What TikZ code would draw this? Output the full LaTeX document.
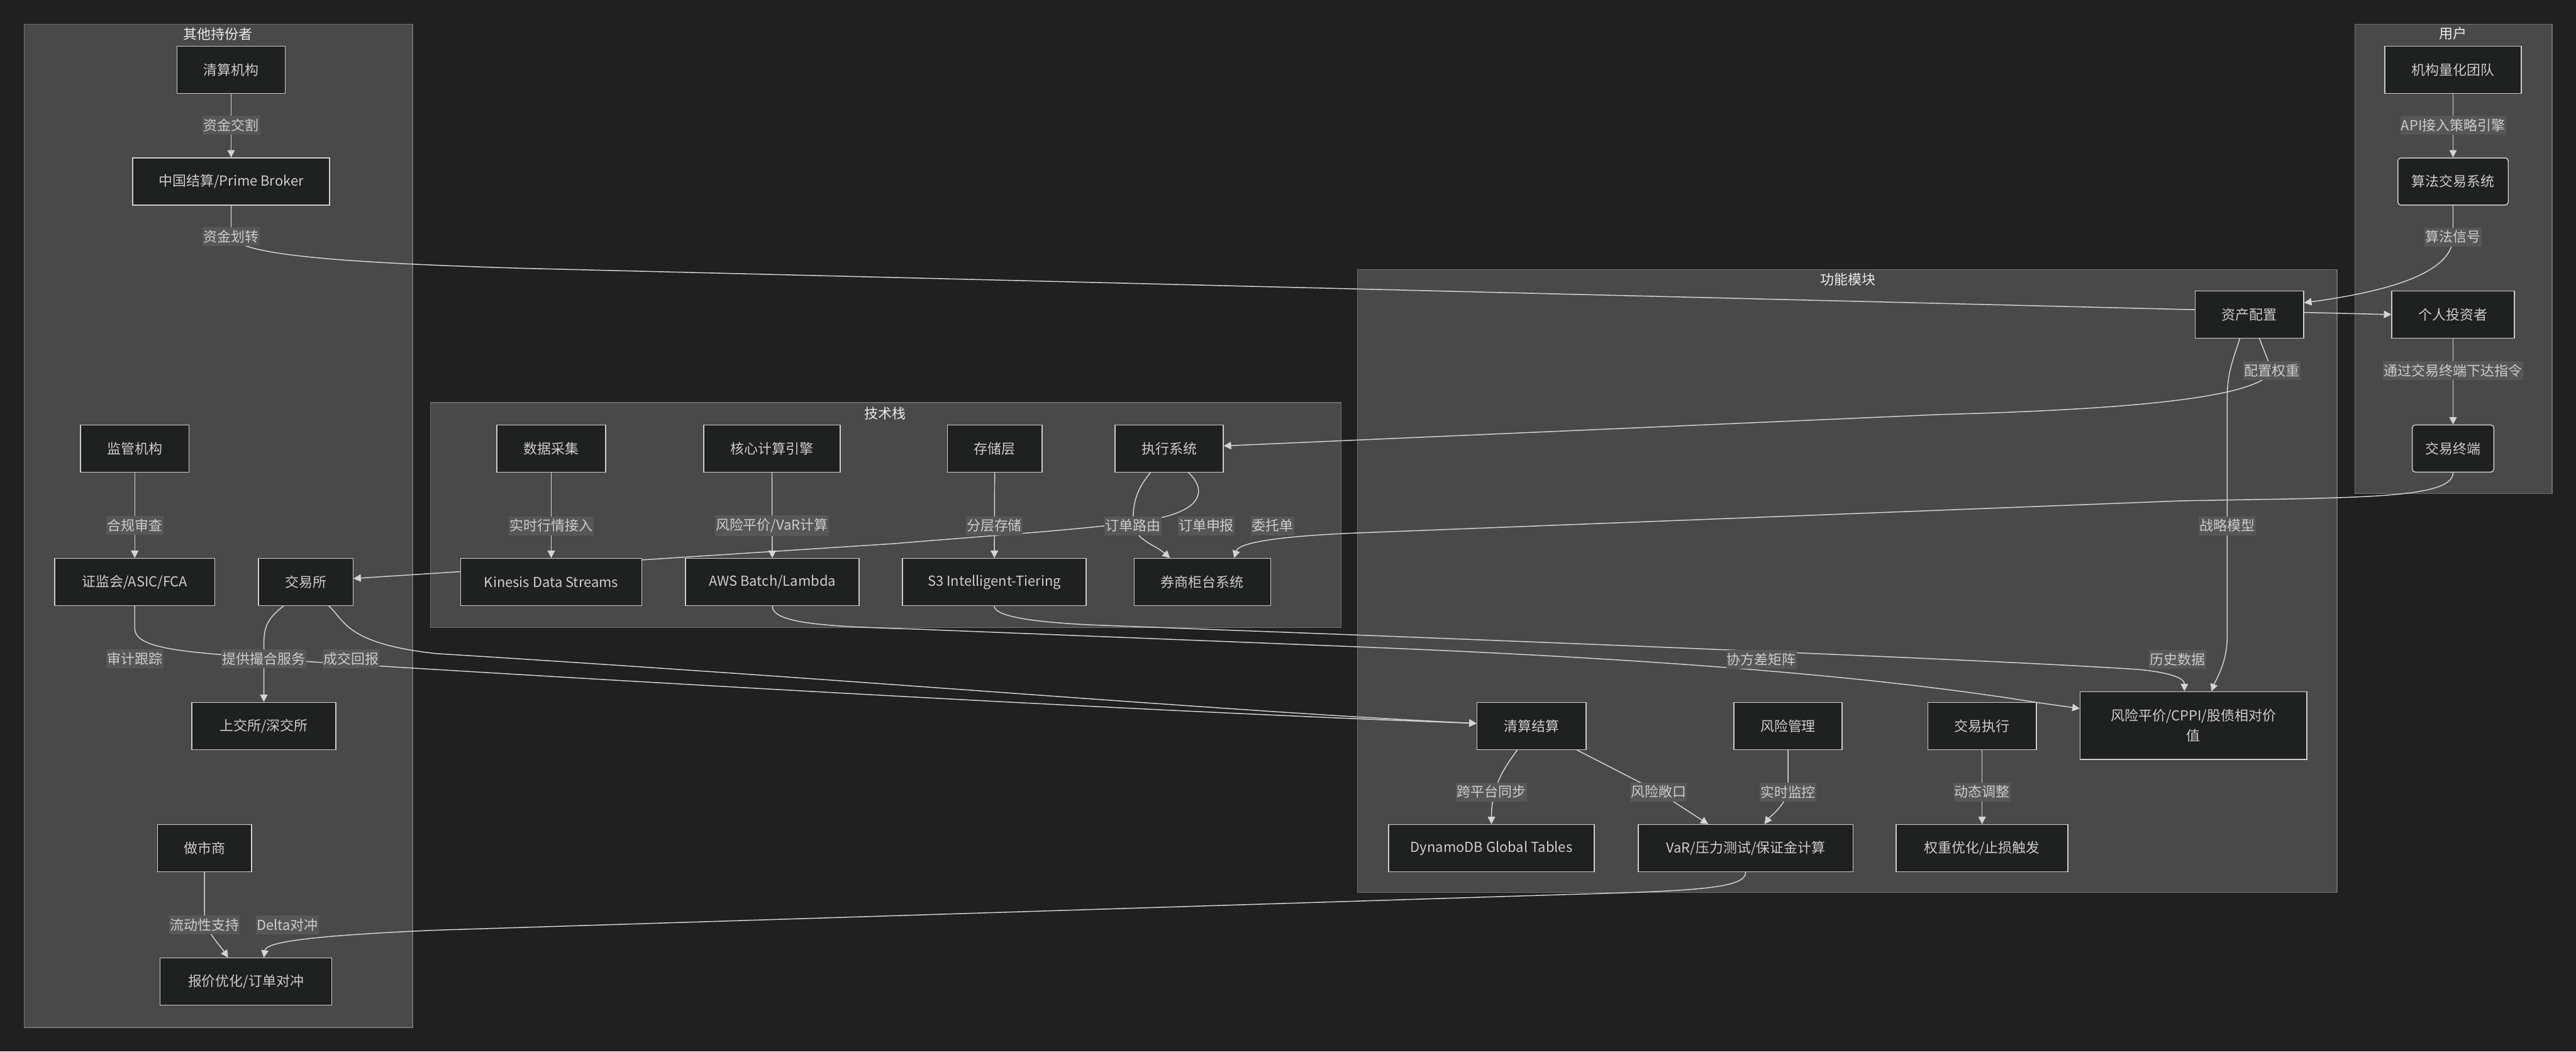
\documentclass[tikz,border=0pt]{standalone}
\usepackage{fontspec}
\setmainfont{Noto Sans CJK SC}
\usetikzlibrary{arrows.meta}
\pgfdeclarelayer{back}
\pgfdeclarelayer{lines}
\pgfsetlayers{back,lines,main}
\definecolor{bgdark}{HTML}{202020}
\definecolor{grpfill}{HTML}{484948}
\definecolor{grpline}{HTML}{6E6E6E}
\definecolor{boxfill}{HTML}{1F2020}
\definecolor{boxline}{HTML}{CCCCCC}
\definecolor{txtgray}{HTML}{CCCCCC}
\definecolor{lblfill}{HTML}{575757}
\definecolor{conngray}{HTML}{D4D4D4}
\begin{document}
\begin{tikzpicture}[
    font=\fontsize{9pt}{11pt}\selectfont,
    blk/.style={draw=boxline, line width=0.6pt, fill=boxfill, text=txtgray, minimum height=1.08cm, minimum width=#1, inner sep=0pt},
    rblk/.style={blk=#1, rounded corners=0.07cm},
    lbl/.style={fill=lblfill, text=txtgray, inner xsep=0.02cm, inner ysep=0.07cm},
    grp/.style={draw=grpline, line width=0.5pt, fill=grpfill},
    grptitle/.style={text=white!92!black},
    conn/.style={draw=conngray, line width=0.6pt, -{Triangle[length=0.17cm, width=0.17cm]}}
  ]
  \useasboundingbox (0,0) rectangle (59.07,-24.10);
  \begin{pgfonlayer}{back}
    \fill[bgdark] (0,0) rectangle (59.07,-24.10);
    \draw[grp] (0.55,-0.55) rectangle (9.46,-23.55);
    \draw[grp] (9.87,-9.23) rectangle (30.75,-14.38);
    \draw[grp] (31.13,-6.18) rectangle (53.59,-20.46);
    \draw[grp] (54.00,-0.56) rectangle (58.52,-11.31);
  \end{pgfonlayer}
  \node[grptitle] (t_other) at (5.00,-0.78) {其他持份者};
  \node[grptitle] (t_tech) at (20.30,-9.47) {技术栈};
  \node[grptitle] (t_func) at (42.38,-6.40) {功能模块};
  \node[grptitle] (t_user) at (56.25,-0.77) {用户};

  % 其他持份者
  \node[blk=2.48cm] (qsjg) at (5.30,-1.60) {清算机构};
  \node[blk=4.51cm] (zgjs) at (5.30,-4.16) {中国结算/Prime Broker};
  \node[blk=2.49cm] (jgjg) at (3.09,-10.28) {监管机构};
  \node[blk=3.67cm] (zjh) at (3.09,-13.34) {证监会/ASIC/FCA};
  \node[blk=2.17cm] (jys) at (7.01,-13.34) {交易所};
  \node[blk=3.30cm] (sjs) at (6.05,-16.64) {上交所/深交所};
  \node[blk=2.16cm] (zss) at (4.69,-19.44) {做市商};
  \node[blk=3.94cm] (bjyh) at (5.64,-22.50) {报价优化/订单对冲};

  % 技术栈
  \node[blk=2.49cm] (sjcj) at (12.64,-10.28) {数据采集};
  \node[blk=4.16cm] (kinesis) at (12.64,-13.34) {Kinesis Data Streams};
  \node[blk=3.13cm] (hxjs) at (17.70,-10.28) {核心计算引擎};
  \node[blk=3.98cm] (aws) at (17.71,-13.34) {AWS Batch/Lambda};
  \node[blk=2.17cm] (ccc) at (22.81,-10.28) {存储层};
  \node[blk=4.21cm] (s3) at (22.80,-13.34) {S3 Intelligent-Tiering};
  \node[blk=2.48cm] (zxxt) at (26.81,-10.28) {执行系统};
  \node[blk=3.13cm] (qsgt) at (27.57,-13.34) {券商柜台系统};

  % 功能模块
  \node[blk=2.49cm] (zcpz) at (51.58,-7.21) {资产配置};
  \node[blk=2.50cm] (qsjs) at (35.12,-16.64) {清算结算};
  \node[blk=2.48cm] (fxgl) at (41.00,-16.64) {风险管理};
  \node[blk=2.49cm] (jyzx) at (45.45,-16.64) {交易执行};
  \node[blk=5.20cm, minimum height=1.55cm, align=center, font=\fontsize{9pt}{13pt}\selectfont] (cppi) at (50.30,-16.63) {风险平价/CPPI/股债相对价\\值};
  \node[blk=4.72cm] (dynamo) at (34.20,-19.44) {DynamoDB Global Tables};
  \node[blk=4.93cm] (var) at (40.03,-19.44) {VaR/压力测试/保证金计算};
  \node[blk=3.94cm] (qzyh) at (45.45,-19.44) {权重优化/止损触发};

  % 用户
  \node[blk=3.13cm] (jglh) at (56.25,-1.60) {机构量化团队};
  \node[rblk=2.53cm] (sfjy) at (56.25,-4.16) {算法交易系统};
  \node[blk=2.81cm] (grtz) at (56.25,-7.21) {个人投资者};
  \node[rblk=1.87cm] (jyzd) at (56.25,-10.28) {交易终端};

  % edge labels
  \node[lbl] (l_zjjg) at (5.30,-2.87) {资金交割};
  \node[lbl] (l_zjhz) at (5.30,-5.42) {资金划转};
  \node[lbl] (l_hgsc) at (3.09,-12.04) {合规审查};
  \node[lbl] (l_sjgz) at (3.09,-15.10) {审计跟踪};
  \node[lbl] (l_tgch) at (6.05,-15.10) {提供撮合服务};
  \node[lbl] (l_cjhb) at (8.05,-15.10) {成交回报};
  \node[lbl] (l_ldx) at (4.69,-21.20) {流动性支持};
  \node[lbl] (l_delta) at (6.59,-21.20) {Delta对冲};
  \node[lbl] (l_ssxq) at (12.64,-12.05) {实时行情接入};
  \node[lbl] (l_fxpj) at (17.70,-12.05) {风险平价/VaR计算};
  \node[lbl] (l_fccc) at (22.80,-12.05) {分层存储};
  \node[lbl] (l_ddly) at (25.98,-12.05) {订单路由};
  \node[lbl] (l_ddsb) at (27.66,-12.05) {订单申报};
  \node[lbl] (l_wtd) at (29.18,-12.05) {委托单};
  \node[lbl] (l_pzqz) at (52.10,-8.50) {配置权重};
  \node[lbl] (l_tgjy) at (56.25,-8.49) {通过交易终端下达指令};
  \node[lbl] (l_api) at (56.25,-2.87) {API接入策略引擎};
  \node[lbl] (l_sfxh) at (56.25,-5.43) {算法信号};
  \node[lbl] (l_zlmx) at (51.07,-12.05) {战略模型};
  \node[lbl] (l_xfc) at (40.39,-15.12) {协方差矩阵};
  \node[lbl] (l_lssj) at (49.93,-15.12) {历史数据};
  \node[lbl] (l_kpt) at (34.20,-18.15) {跨平台同步};
  \node[lbl] (l_fxck) at (38.03,-18.15) {风险敞口};
  \node[lbl] (l_ssjk) at (41.00,-18.15) {实时监控};
  \node[lbl] (l_dttz) at (45.45,-18.15) {动态调整};

  \begin{pgfonlayer}{lines}
    \draw[conn] (qsjg) -- (zgjs);
    \draw[conn] (zgjs) -- (l_zjhz.center) .. controls (5.50,-5.78) and (7.00,-6.00) .. (12.00,-6.15) -- (grtz.west);
    \draw[conn] (jglh) -- (sfjy);
    \draw[conn] (sfjy) -- (l_sfxh.center) .. controls (56.25,-6.30) and (54.60,-6.70) .. ([yshift=0.27cm]zcpz.east);
    \draw[conn] (grtz) -- (jyzd);
    \draw[conn] (jyzd.south) .. controls (56.25,-11.45) and (54.00,-11.40) .. (50.00,-11.48) -- (31.00,-12.22) .. controls (29.20,-12.30) and (28.40,-12.45) .. ([xshift=0.73cm]qsgt.north);
    \draw[conn] (jgjg) -- (zjh);
    \draw[conn] (zjh.south) -- (3.09,-14.40) .. controls (3.09,-14.95) and (4.60,-14.95) .. (7.00,-15.16) .. controls (14.00,-15.60) and (26.00,-16.30) .. ([yshift=0.06cm]qsjs.west);
    \draw[conn] ([xshift=0.53cm]jys.south) .. controls (7.90,-14.20) and (7.90,-14.75) .. (10.00,-14.98) .. controls (20.00,-15.60) and (28.00,-16.30) .. ([yshift=0.06cm]qsjs.west);
    \draw[conn] ([xshift=-0.51cm]jys.south) .. controls (6.10,-14.20) and (6.05,-14.40) .. (6.05,-14.80) -- (sjs.north);
    \draw[conn] (zss.south) -- (4.69,-20.90) .. controls (4.69,-21.35) and (5.00,-21.60) .. ([xshift=-0.41cm]bjyh.north);
    \draw[conn] (var.south) .. controls (40.03,-20.35) and (39.00,-20.42) .. (36.00,-20.50) -- (10.00,-21.32) .. controls (7.00,-21.45) and (6.10,-21.60) .. ([xshift=0.41cm]bjyh.north);
    \draw[conn] (sjcj) -- (kinesis);
    \draw[conn] (hxjs) -- (aws);
    \draw[conn] (ccc) -- (s3);
    \draw[conn] ([xshift=-0.43cm]zxxt.south) .. controls (26.00,-11.30) and (25.98,-11.60) .. (l_ddly.center) .. controls (26.10,-12.40) and (26.50,-12.50) .. ([xshift=-0.74cm]qsgt.north);
    \draw[conn] ([xshift=0.44cm]zxxt.south) .. controls (27.65,-11.20) and (27.60,-11.65) .. (26.60,-11.87) .. controls (25.50,-12.10) and (23.00,-12.25) .. (20.50,-12.46) -- ([yshift=0.08cm]jys.east);
    \draw[conn] ([xshift=0.23cm]zcpz.south) -- (l_pzqz.center) .. controls (51.80,-9.10) and (49.00,-9.38) .. (44.50,-9.50) -- ([yshift=0.06cm]zxxt.east);
    \draw[conn] ([xshift=-0.22cm]zcpz.south) .. controls (51.15,-8.40) and (51.07,-8.60) .. (51.07,-9.20) -- (51.07,-14.60) .. controls (51.07,-15.20) and (50.80,-15.60) .. ([xshift=0.41cm]cppi.north);
    \draw[conn] (aws.south) .. controls (17.71,-14.30) and (19.00,-14.36) .. (21.00,-14.42) -- (31.00,-14.82) .. controls (38.00,-15.10) and (43.00,-15.50) .. (46.70,-16.10) -- ([yshift=0.39cm]cppi.west);
    \draw[conn] (s3.south) .. controls (22.80,-14.10) and (23.50,-14.26) .. (25.20,-14.33) -- (31.00,-14.55) .. controls (40.00,-14.90) and (47.00,-15.20) .. (49.10,-15.35) .. controls (50.00,-15.45) and (50.09,-15.60) .. ([xshift=-0.21cm]cppi.north);
    \draw[conn] ([xshift=-0.33cm]qsjs.south) .. controls (34.50,-17.60) and (34.20,-18.00) .. (dynamo.north);
    \draw[conn] ([xshift=1.04cm]qsjs.south) -- (l_fxck.center) -- ([xshift=-0.86cm]var.north);
    \draw[conn] (fxgl) -- (l_ssjk.center) .. controls (40.90,-18.50) and (40.60,-18.70) .. ([xshift=0.43cm]var.north);
    \draw[conn] (jyzx) -- (qzyh);
  \end{pgfonlayer}
\end{tikzpicture}
\end{document}
